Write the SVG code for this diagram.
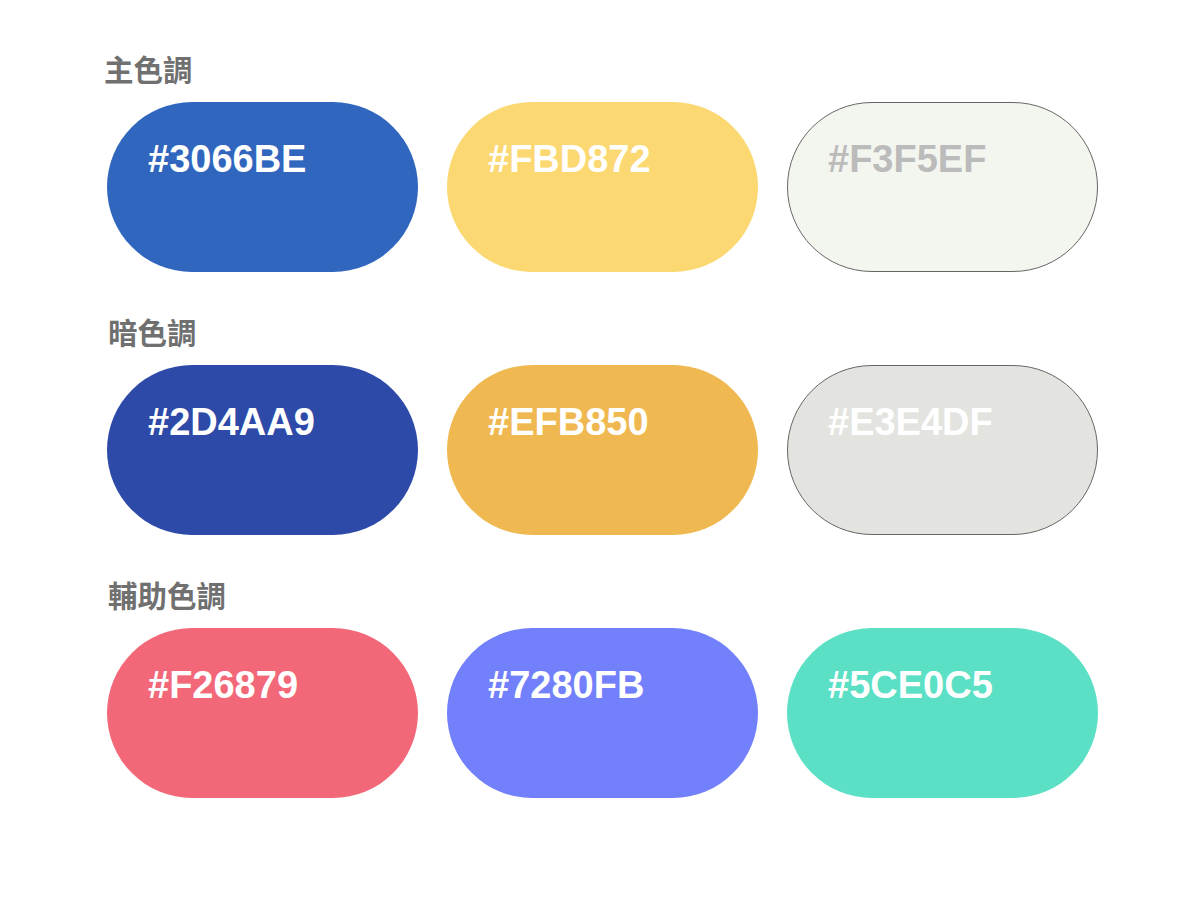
<svg xmlns="http://www.w3.org/2000/svg" width="1200" height="904" viewBox="0 0 1200 904">
<style>
.h{font-family:"Liberation Sans","Noto Sans CJK TC",sans-serif;font-size:29.5px;font-weight:bold;fill:#707070}
.t{font-family:"Liberation Sans","Noto Sans CJK TC",sans-serif;font-size:38px;font-weight:bold;fill:#fff}
.o{stroke:#666;stroke-width:1}
</style>
<rect width="1200" height="904" fill="#fff"/>
<text class="h" x="104" y="81">主色調</text>
<text class="h" x="108" y="344">暗色調</text>
<text class="h" x="108" y="607">輔助色調</text>
<g id="c3066BE"><rect x="107" y="102" width="311" height="170" rx="85" fill="#3066BE"/><text class="t" x="148" y="172">#3066BE</text></g>
<g id="cFBD872"><rect x="447" y="102" width="311" height="170" rx="85" fill="#FBD872"/><text class="t" x="488" y="172">#FBD872</text></g>
<g id="cF3F5EF"><rect class="o" x="787.5" y="102.5" width="310" height="169" rx="84.5" fill="#F3F5EF"/><text class="t" x="828" y="172" style="fill:#BBBBBB">#F3F5EF</text></g>
<g id="c2D4AA9"><rect x="107" y="365" width="311" height="170" rx="85" fill="#2D4AA9"/><text class="t" x="148" y="435">#2D4AA9</text></g>
<g id="cEFB850"><rect x="447" y="365" width="311" height="170" rx="85" fill="#EFB850"/><text class="t" x="488" y="435">#EFB850</text></g>
<g id="cE3E4DF"><rect class="o" x="787.5" y="365.5" width="310" height="169" rx="84.5" fill="#E3E4DF"/><text class="t" x="828" y="435">#E3E4DF</text></g>
<g id="cF26879"><rect x="107" y="628" width="311" height="170" rx="85" fill="#F26879"/><text class="t" x="148" y="698">#F26879</text></g>
<g id="c7280FB"><rect x="447" y="628" width="311" height="170" rx="85" fill="#7280FB"/><text class="t" x="488" y="698">#7280FB</text></g>
<g id="c5CE0C5"><rect x="787" y="628" width="311" height="170" rx="85" fill="#5CE0C5"/><text class="t" x="828" y="698">#5CE0C5</text></g>
<g id="connectors"/>
</svg>
